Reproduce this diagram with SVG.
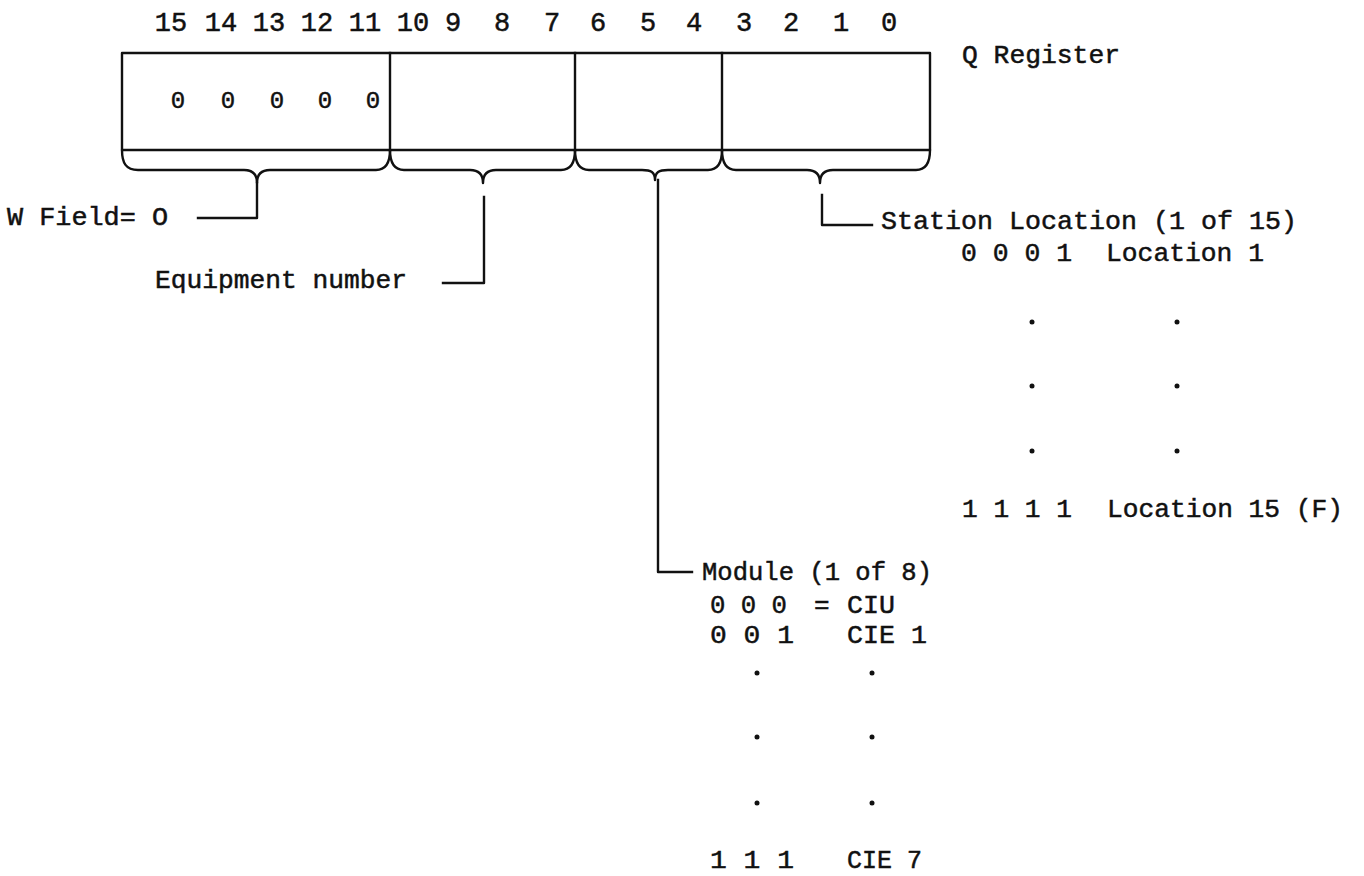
<svg xmlns="http://www.w3.org/2000/svg" width="1364" height="876" viewBox="0 0 1364 876">
<style>
.t{font-family:"Liberation Mono","DejaVu Sans Mono",monospace;font-size:26px;fill:#111;stroke:#111;stroke-width:0.5}
.d{font-family:"Liberation Mono","DejaVu Sans Mono",monospace;font-size:27px;fill:#111;stroke:#111;stroke-width:0.5;text-anchor:middle}
.z{font-size:24px}
.ln{fill:none;stroke:#111;stroke-width:2.4;stroke-linecap:square;stroke-linejoin:round}
.br{fill:none;stroke:#111;stroke-width:2.4;stroke-linecap:round;stroke-linejoin:round}
.dot{fill:#111}
</style>
<rect width="1364" height="876" fill="#fff"/>

<g id="bit-numbers">
<text class="d" x="171" y="31">15</text>
<text class="d" x="221" y="31">14</text>
<text class="d" x="269" y="31">13</text>
<text class="d" x="317" y="31">12</text>
<text class="d" x="365" y="31">11</text>
<text class="d" x="413" y="31">10</text>
<text class="d" x="453" y="31">9</text>
<text class="d" x="502" y="31">8</text>
<text class="d" x="552" y="31">7</text>
<text class="d" x="598" y="31">6</text>
<text class="d" x="648" y="31">5</text>
<text class="d" x="694" y="31">4</text>
<text class="d" x="744" y="31">3</text>
<text class="d" x="791" y="31">2</text>
<text class="d" x="841" y="31">1</text>
<text class="d" x="889" y="31">0</text>
</g>

<g id="q-register">
<rect class="ln" x="122" y="53" width="808" height="97"/>
<line class="ln" x1="390" y1="53" x2="390" y2="150"/>
<line class="ln" x1="575" y1="53" x2="575" y2="150"/>
<line class="ln" x1="722" y1="53" x2="722" y2="150"/>
<text class="d z" x="178" y="108">0</text>
<text class="d z" x="228" y="108">0</text>
<text class="d z" x="277" y="108">0</text>
<text class="d z" x="325" y="108">0</text>
<text class="d z" x="373" y="108">0</text>
<text class="t" x="962" y="63" textLength="158" lengthAdjust="spacingAndGlyphs">Q Register</text>
</g>

<g id="connectors">
<path class="br" d="M122,150 C122,163 126,170 138,170 L244,170 C253,170 257,175 257,183 C257,175 261,170 270,170 L376,170 C386,170 390,163 390,150"/>
<path class="br" d="M390,150 C390,163 394,170 404,170 L470,170 C479,170 483,175 483,183 C483,175 487,170 496,170 L561,170 C571,170 575,163 575,150"/>
<path class="br" d="M575,150 C575,163 579,170 589,170 L642,170 C651,170 655,172 655,180 C655,172 659,170 668,170 L708,170 C718,170 722,163 722,150"/>
<path class="br" d="M722,150 C722,163 726,170 736,170 L807,170 C816,170 820,175 820,183 C820,175 824,170 833,170 L916,170 C926,170 930,163 930,150"/>
<polyline class="ln" points="257,183 257,218 198,218"/>
<polyline class="ln" points="484,197 484,283 443,283"/>
<polyline class="ln" points="658,180 658,572 692,572"/>
<polyline class="ln" points="822,195 822,225 872,225"/>
</g>

<g id="w-field">
<text class="t" x="7" y="225" textLength="161" lengthAdjust="spacingAndGlyphs">W Field= O</text>
</g>

<g id="equipment-number">
<text class="t" x="155" y="288" textLength="252" lengthAdjust="spacingAndGlyphs">Equipment number</text>
</g>

<g id="station-location">
<text class="t" x="881" y="229" textLength="416" lengthAdjust="spacingAndGlyphs">Station Location (1 of 15)</text>
<text class="t" x="961" y="261" textLength="111" lengthAdjust="spacingAndGlyphs">0 0 0 1</text>
<text class="t" x="1106" y="261" textLength="158" lengthAdjust="spacingAndGlyphs">Location 1</text>
<circle class="dot" cx="1032" cy="322" r="2.5"/>
<circle class="dot" cx="1177" cy="322" r="2.5"/>
<circle class="dot" cx="1032" cy="386" r="2.5"/>
<circle class="dot" cx="1177" cy="386" r="2.5"/>
<circle class="dot" cx="1032" cy="451" r="2.5"/>
<circle class="dot" cx="1177" cy="451" r="2.5"/>
<text class="t" x="962" y="517" textLength="110" lengthAdjust="spacingAndGlyphs">1 1 1 1</text>
<text class="t" x="1107" y="517" textLength="236" lengthAdjust="spacingAndGlyphs">Location 15 (F)</text>
</g>

<g id="module">
<text class="t" x="702" y="580" textLength="230" lengthAdjust="spacingAndGlyphs">Module (1 of 8)</text>
<text class="t" x="710" y="613" textLength="77" lengthAdjust="spacingAndGlyphs">0 0 0</text>
<text class="t" x="814" y="613">=</text>
<text class="t" x="847" y="613" textLength="48" lengthAdjust="spacingAndGlyphs">CIU</text>
<text class="t" x="710" y="643" textLength="84" lengthAdjust="spacingAndGlyphs">0 0 1</text>
<text class="t" x="847" y="643" textLength="80" lengthAdjust="spacingAndGlyphs">CIE 1</text>
<circle class="dot" cx="757" cy="673" r="2.5"/>
<circle class="dot" cx="872" cy="673" r="2.5"/>
<circle class="dot" cx="757" cy="737" r="2.5"/>
<circle class="dot" cx="872" cy="737" r="2.5"/>
<circle class="dot" cx="757" cy="803" r="2.5"/>
<circle class="dot" cx="872" cy="803" r="2.5"/>
<text class="t" x="710" y="868" textLength="84" lengthAdjust="spacingAndGlyphs">1 1 1</text>
<text class="t" x="847" y="868" textLength="75" lengthAdjust="spacingAndGlyphs">CIE 7</text>
</g>
</svg>
